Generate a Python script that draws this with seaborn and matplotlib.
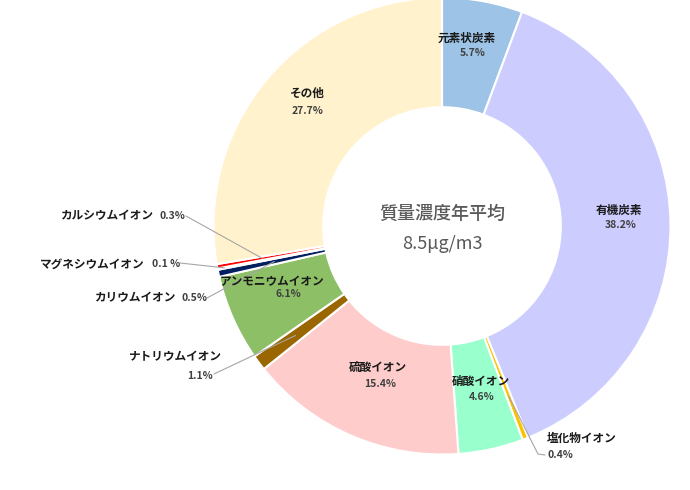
import numpy as np
import matplotlib
matplotlib.use("Agg")
import matplotlib.pyplot as plt
import seaborn as sns

# data, clockwise from 12 o'clock
names = ["元素状炭素", "有機炭素", "塩化物イオン", "硝酸イオン", "硫酸イオン",
         "ナトリウムイオン", "アンモニウムイオン", "カリウムイオン",
         "マグネシウムイオン", "カルシウムイオン", "その他"]
shares = [5.7, 38.2, 0.4, 4.6, 15.4, 1.1, 6.1, 0.5, 0.1, 0.3, 27.7]
pct_text = ["5.7%", "38.2%", "0.4%", "4.6%", "15.4%", "1.1%", "6.1%",
            "0.5%", "0.1 %", "0.3%", "27.7%"]
colors = ["#9DC3E6", "#CCCCFF", "#FFC000", "#99FFCC", "#FFCCCC", "#996600",
          "#8DC066", "#002060", "#FFFFFF", "#FF0000", "#FFF2CC"]
center_title = "質量濃度年平均"
center_value = "8.5μg/m3"

sns.set_theme(style="white")
plt.rcParams['font.family'] = ['Noto Sans CJK JP', 'DejaVu Sans']

W, H = 690, 490
fig = plt.figure(figsize=(W / 100, H / 100), dpi=100)

# donut geometry in pixels
cx, cy, R = 442, 226, 228.5
ax = fig.add_axes([(cx - R) / W, 1 - (cy + R) / H, 2 * R / W, 2 * R / H])
wedges, _ = ax.pie(shares, colors=colors, startangle=90, counterclock=False,
                   radius=1.0,
                   wedgeprops=dict(width=0.48, edgecolor="white", linewidth=1.5))
ax.set_xlim(-1, 1)
ax.set_ylim(-1, 1)
ax.set_aspect("equal")
ax.axis("off")


def px(x, y):
    return x / W, 1 - y / H


# centre text
fig.text(*px(cx, 214), center_title, ha="center", va="center",
         fontsize=13, color="#595959", fontweight="medium")
fig.text(*px(cx, 244), center_value, ha="center", va="center",
         fontsize=13, color="#595959")

name_kw = dict(fontsize=8.4, fontweight="bold", color="#1a1a1a")
pct_kw = dict(fontsize=7.5, fontweight="bold", color="#404040")

# labels inside the ring: (name pos, pct pos)
inside = {
    "元素状炭素": ((467, 38), (473, 53)),
    "有機炭素": ((619, 210), (621, 225)),
    "硝酸イオン": ((481, 381), (482, 397)),
    "硫酸イオン": ((378, 367), (380, 384)),
    "アンモニウムイオン": ((272, 282), (288, 294)),
    "その他": ((307, 93), (308, 111)),
}
for name, ((nx, ny), (qx, qy)) in inside.items():
    i = names.index(name)
    fig.text(*px(nx, ny), name, ha="center", va="center", **name_kw)
    fig.text(*px(qx, qy), pct_text[i], ha="center", va="center", **pct_kw)

# labels outside with leader lines: name right edge, pct left edge, line start, radius on ring
outside = {
    "カルシウムイオン": ((153, 216), (159, 216), (186, 216), 0.80),
    "マグネシウムイオン": ((145, 264), (152, 264), (180, 263), 0.97),
    "カリウムイオン": ((175, 298), (181, 298), (207, 298), 0.75),
    "塩化物イオン": ((None, None), (547, 455), (538, 454), 0.80),
    "ナトリウムイオン": ((None, None), (214, 376), (214, 374), 0.80),
}
for name, ((nx, ny), (qx, qy), (lx, ly), rr) in outside.items():
    i = names.index(name)
    w = wedges[i]
    mid = np.deg2rad((w.theta1 + w.theta2) / 2)
    ex = cx + R * rr * np.cos(mid)
    ey = cy - R * rr * np.sin(mid)
    if name == "塩化物イオン":
        fig.text(*px(547, 438), name, ha="left", va="center", **name_kw)
        fig.text(*px(qx, qy), pct_text[i], ha="left", va="center", **pct_kw)
        xs = [qx - 2, lx, ex]
        ys = [qy, ly, ey]
    elif name == "ナトリウムイオン":
        fig.text(*px(175, 357), name, ha="center", va="center", **name_kw)
        fig.text(*px(200, 376), pct_text[i], ha="center", va="center", **pct_kw)
        xs = [lx, ex]
        ys = [ly, ey]
    else:
        fig.text(*px(nx, ny), name, ha="right", va="center", **name_kw)
        fig.text(*px(qx, qy), pct_text[i], ha="left", va="center", **pct_kw)
        xs = [lx, ex]
        ys = [ly, ey]
    fx, fy = zip(*[px(a, b) for a, b in zip(xs, ys)])
    fig.add_artist(plt.Line2D(fx, fy, color="#A6A6A6", linewidth=0.8,
                              transform=fig.transFigure))

fig.savefig("out.png", dpi=100, facecolor="white")
